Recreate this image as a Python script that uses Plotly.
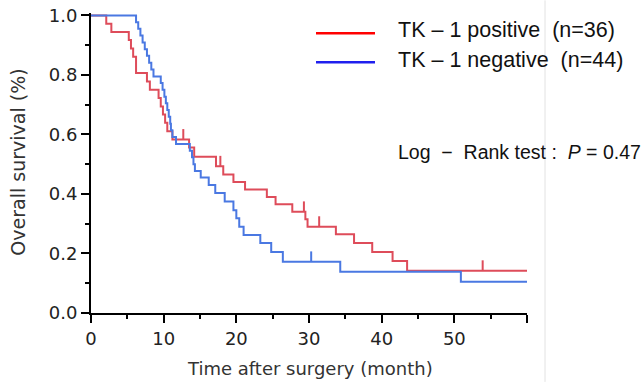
import plotly.graph_objects as go

# ---- data ----
pos_times = [0, 2.1, 2.8, 5.2, 5.5, 5.8, 6.2, 7.7, 8.1, 9.3, 9.6, 9.9, 10.2, 10.5, 11.2,
             13.5, 14.2, 17.2, 18.2, 19.6, 21.2, 24.2, 25.4, 27.7, 29.5, 29.8, 33.7,
             36.2, 38.7, 41.5, 43.5, 60]
pos_surv = [1.0, 0.972, 0.944, 0.917, 0.889, 0.861, 0.806, 0.778, 0.750, 0.722, 0.694,
            0.667, 0.639, 0.611, 0.583, 0.556, 0.525, 0.493, 0.465, 0.440, 0.415, 0.390,
            0.365, 0.340, 0.315, 0.290, 0.265, 0.235, 0.205, 0.175, 0.142, 0.142]
pos_censor = [12.7, 17.8, 29.3, 31.4, 53.9]

neg_times = [0, 6.2, 6.5, 6.8, 7.1, 7.4, 7.7, 8.0, 8.3, 8.6, 9.6, 9.85, 10.1, 10.3, 10.5,
             10.7, 10.9, 11.0, 11.2, 11.7, 13.6, 13.9, 14.1, 14.3, 15.1, 16.2, 17.1, 18.4,
             19.6, 20.0, 20.4, 21.0, 23.3, 24.8, 26.4, 34.3, 50.9, 60]
neg_surv = [1.0, 0.977, 0.955, 0.932, 0.909, 0.886, 0.864, 0.841, 0.818, 0.795, 0.773,
            0.750, 0.727, 0.705, 0.682, 0.659, 0.636, 0.614, 0.591, 0.568, 0.545, 0.523,
            0.500, 0.477, 0.455, 0.430, 0.403, 0.375, 0.345, 0.318, 0.290, 0.262, 0.235,
            0.205, 0.172, 0.139, 0.105, 0.105]
neg_censor = [30.3]

NB = "\u00a0"
legend_labels = ["TK \u2013 1 positive" + NB * 2 + "(n=36)",
                 "TK \u2013 1 negative" + NB * 2 + "(n=44)"]
logrank_text = "Log" + NB * 2 + "\u2212" + NB * 2 + "Rank test :" + NB * 2 + "<i>P</i> = 0.47"
x_title = "Time after surgery (month)"
y_title = "Overall survival (%)"
x_ticks = [0, 10, 20, 30, 40, 50, 60]
x_ticktext = ["0", "10", "20", "30", "40", "50", ""]
y_ticks = [0.0, 0.2, 0.4, 0.6, 0.8, 1.0]
y_max = 1.008

RED = "#de4c5a"
BLUE = "#4a78e2"


def surv_at(times, surv, t):
    s = surv[0]
    for ti, si in zip(times, surv):
        if ti <= t:
            s = si
    return s


def censor_segments(times, surv, ctimes, h=0.035):
    xs, ys = [], []
    for c in ctimes:
        s = surv_at(times, surv, c)
        xs += [c, c, None]
        ys += [s, s + h, None]
    return xs, ys


fig = go.Figure()
fig.add_trace(go.Scatter(x=pos_times, y=pos_surv, mode="lines", line_shape="hv",
                         line=dict(color=RED, width=2), showlegend=False))
cx, cy = censor_segments(pos_times, pos_surv, pos_censor)
fig.add_trace(go.Scatter(x=cx, y=cy, mode="lines", line=dict(color=RED, width=2),
                         showlegend=False))
fig.add_trace(go.Scatter(x=neg_times, y=neg_surv, mode="lines", line_shape="hv",
                         line=dict(color=BLUE, width=2), showlegend=False))
cx, cy = censor_segments(neg_times, neg_surv, neg_censor)
fig.add_trace(go.Scatter(x=cx, y=cy, mode="lines", line=dict(color=BLUE, width=2),
                         showlegend=False))

W, H = 642, 382
Y0, Y1 = 313, 15  # pixel rows of 0.0 and 1.0
L, R = 91, 115
B = H - Y0
T = Y0 - (Y0 - Y1) * y_max
pw = W - L - R
ph = H - T - B


def px_x(p):
    return (p - L) / pw


def px_y(p):
    return (H - B - p) / ph


shapes = [
    dict(type="line", xref="paper", yref="paper", x0=px_x(316), x1=px_x(375),
         y0=px_y(33), y1=px_y(33), line=dict(color="#ff0000", width=2.5)),
    dict(type="line", xref="paper", yref="paper", x0=px_x(316), x1=px_x(375),
         y0=px_y(62), y1=px_y(62), line=dict(color="#2020ee", width=2.5)),
    dict(type="line", xref="paper", yref="paper", x0=px_x(545), x1=px_x(545),
         y0=px_y(0), y1=px_y(382), line=dict(color="#e2e2e2", width=1)),
]

annotations = [
    dict(xref="paper", yref="paper", x=px_x(396), y=px_y(30), xanchor="left",
         yanchor="middle", text=legend_labels[0], showarrow=False,
         font=dict(family="Liberation Sans, Arial", size=21.5, color="#111")),
    dict(xref="paper", yref="paper", x=px_x(396), y=px_y(60), xanchor="left",
         yanchor="middle", text=legend_labels[1], showarrow=False,
         font=dict(family="Liberation Sans, Arial", size=21.5, color="#111")),
    dict(xref="paper", yref="paper", x=px_x(396), y=px_y(152), xanchor="left",
         yanchor="middle", text=logrank_text, showarrow=False,
         font=dict(family="Liberation Sans, Arial", size=19.5, color="#111")),
    dict(xref="paper", yref="paper", x=px_x(310), y=px_y(369), xanchor="center",
         yanchor="middle", text=x_title, showarrow=False,
         font=dict(family="DejaVu Sans", size=18, color="#333")),
    dict(xref="paper", yref="paper", x=px_x(18.5), y=px_y(162), xanchor="center",
         yanchor="middle", text=y_title, textangle=-90, showarrow=False,
         font=dict(family="DejaVu Sans", size=19, color="#333")),
]

fig.update_layout(
    width=W, height=H,
    margin=dict(l=L, r=R, t=T, b=B, pad=0, autoexpand=False),
    paper_bgcolor="white", plot_bgcolor="white",
    shapes=shapes, annotations=annotations,
    xaxis=dict(range=[0, 60], tickvals=x_ticks, ticktext=x_ticktext, automargin=False,
               showline=True, linecolor="black", linewidth=2, mirror=False,
               ticks="outside", ticklen=8, tickwidth=2, tickcolor="black",
               minor=dict(dtick=5, ticks="outside", ticklen=4, tickwidth=2, tickcolor="black"),
               showgrid=False, zeroline=False,
               tickfont=dict(family="DejaVu Sans", size=18, color="#222")),
    yaxis=dict(range=[0, y_max], tickvals=y_ticks, tickformat=".1f", automargin=False,
               showline=True, linecolor="black", linewidth=2,
               ticks="outside", ticklen=8, tickwidth=2, tickcolor="black",
               minor=dict(dtick=0.1, ticks="outside", ticklen=4, tickwidth=2, tickcolor="black"),
               showgrid=False, zeroline=False,
               tickfont=dict(family="DejaVu Sans", size=18, color="#222")),
)

fig.write_html("out.html", config={"displayModeBar": False},
               post_script="document.body.style.margin='0px';document.body.style.overflow='hidden';")
